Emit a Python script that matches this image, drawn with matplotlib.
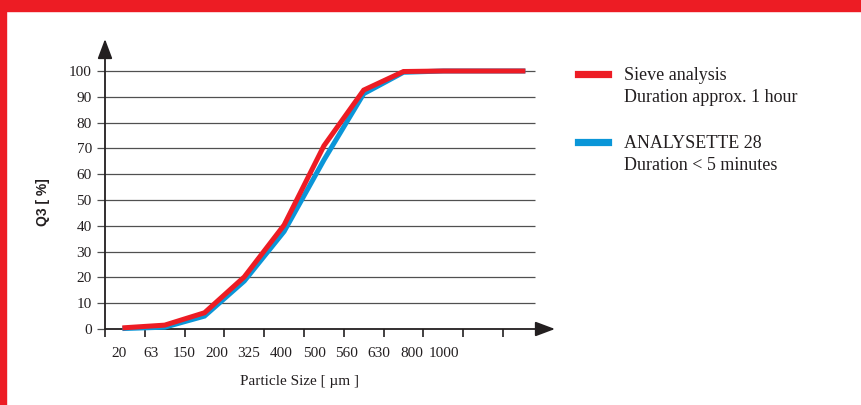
import matplotlib
matplotlib.use('Agg')
import matplotlib.pyplot as plt
from matplotlib.patches import Rectangle
from matplotlib.lines import Line2D

# particle size classes (x tick labels) and cumulative passing Q3 [%]
size_labels = ['20', '63', '150', '200', '325', '400', '500', '560', '630', '800', '1000']
sieve = [0.5, 1.5, 6.3, 20.2, 40.3, 71, 92.6, 99.8, 100, 100, 100]
analysette = [0.2, 0.7, 5.0, 18.6, 37.8, 65.5, 91.2, 99.5, 100, 100, 100]
y_ticks = [0, 10, 20, 30, 40, 50, 60, 70, 80, 90, 100]

RED = '#ED1C24'
BLUE = '#0A96D8'
INK = '#231F20'
GRID = '#505050'
serif = ['Liberation Serif', 'DejaVu Serif']

W, H = 861, 405
fig = plt.figure(figsize=(W / 100, H / 100), dpi=100)

# red frame (top band and left strip)
fig.patches.append(Rectangle((0, 1 - 11 / H), 1, 11 / H, transform=fig.transFigure,
                             color=RED, zorder=0))
fig.patches.append(Rectangle((0, 0), 6 / W, 1, transform=fig.transFigure,
                             color=RED, zorder=0))

ax = fig.add_axes([105 / W, 76 / H, 450 / W, 290 / H])
ax.set_xlim(0, 450 / 39.8)
ax.set_ylim(0, 290 / 2.58)
for s in ax.spines.values():
    s.set_visible(False)

# horizontal grid lines
grid_end = 430 / 39.8
ax.hlines(y_ticks[1:], 0, grid_end, color=GRID, lw=0.9, zorder=1)

# axes with arrows
ax.annotate('', xy=(450 / 39.8, 0), xytext=(0, 0), xycoords='data',
            arrowprops=dict(arrowstyle='-|>,head_length=1.2,head_width=0.45',
                            mutation_scale=10, lw=1.3, color=INK, shrinkA=0, shrinkB=0),
            annotation_clip=False, zorder=3)
ax.annotate('', xy=(0, 290 / 2.58), xytext=(0, 0), xycoords='data',
            arrowprops=dict(arrowstyle='-|>,head_length=1.2,head_width=0.45',
                            mutation_scale=10, lw=1.3, color=INK, shrinkA=0, shrinkB=0),
            annotation_clip=False, zorder=3)

# ticks
ax.set_yticks(y_ticks)
ax.set_yticklabels([str(v) for v in y_ticks], fontfamily=serif, fontsize=11, color=INK)
ax.tick_params(axis='y', direction='out', length=6, width=0.9, color=GRID, pad=3.5)
ax.set_xticks(range(len(size_labels)))
ax.set_xticklabels([])
ax.tick_params(axis='x', direction='out', length=5.5, width=1.2, color=INK)

# x tick labels (evenly spaced text, not aligned with tick marks)
for i, lbl in enumerate(size_labels):
    ax.annotate(lbl, xy=((14 + 32.5 * i) / 39.8, 0), xytext=(0, -17.3),
                textcoords='offset points', ha='center', va='center',
                fontfamily=serif, fontsize=11, color=INK, annotation_clip=False)

# curves
xs = [i + 0.5 for i in range(len(size_labels))]
ax.plot(xs, analysette, color=BLUE, lw=3.6, solid_joinstyle='miter', zorder=4, clip_on=False)
ax.plot(xs, sieve, color=RED, lw=3.6, solid_joinstyle='miter', zorder=5, clip_on=False)

# axis titles
fig.text(300 / W, 1 - 382 / H, 'Particle Size [ \u00b5m ]', ha='center', va='center',
         fontfamily=serif, fontsize=11, color=INK)
fig.text(43 / W, 1 - 202 / H, 'Q3 [ %]', ha='center', va='center', rotation=90,
         fontfamily=['Liberation Sans', 'DejaVu Sans'], fontweight='bold',
         fontsize=10, color=INK)

# legend
for ypix, col in [(74, RED), (142, BLUE)]:
    fig.lines.append(Line2D([578 / W, 608 / W], [1 - ypix / H] * 2,
                            transform=fig.transFigure, color=col, lw=5.2))
legend_text = [(76, 'Sieve analysis'), (98, 'Duration approx. 1 hour'),
               (143, 'ANALYSETTE 28'), (166, 'Duration < 5 minutes')]
for ypix, txt in legend_text:
    fig.text(624 / W, 1 - ypix / H, txt, ha='left', va='center',
             fontfamily=serif, fontsize=13, color=INK)

fig.savefig('out.png', dpi=100, facecolor='white')
